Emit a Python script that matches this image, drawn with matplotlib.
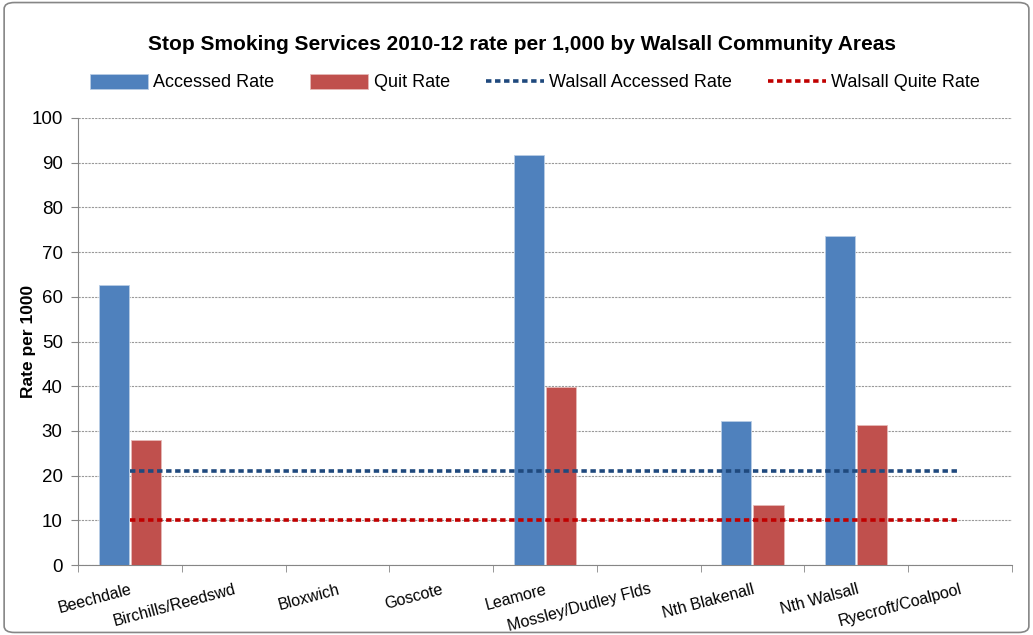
import matplotlib.pyplot as plt
from matplotlib.patches import FancyBboxPatch
import numpy as np

plt.rcParams['font.family'] = ['Liberation Sans', 'DejaVu Sans']

areas = ['Beechdale', 'Birchills/Reedswd', 'Bloxwich', 'Goscote', 'Leamore',
         'Mossley/Dudley Flds', 'Nth Blakenall', 'Nth Walsall', 'Ryecroft/Coalpool']
accessed = [62.6, 0, 0, 0, 91.7, 0, 32.2, 73.6, 0]
quit_rate = [28.0, 0, 0, 0, 39.8, 0, 13.4, 31.3, 0]
walsall_accessed = [21.0] * len(areas)
walsall_quit = [10.1] * len(areas)

fig = plt.figure(figsize=(10.33, 6.35), dpi=100)
ax = fig.add_axes([0.0755, 0.1102, 0.904, 0.704])

x = np.arange(len(areas))
w = 0.29
b1 = ax.bar(x - w / 2 - 0.01, accessed, w, color='#4f81bd', edgecolor='#b9cde5', linewidth=0.6,
            label='Accessed Rate', zorder=3)
b2 = ax.bar(x + w / 2 + 0.01, quit_rate, w, color='#c0504d', edgecolor='#e6b9b8', linewidth=0.6,
            label='Quit Rate', zorder=3)
l1, = ax.plot(x, walsall_accessed, color='#1f497d', linestyle=(0, (1.5, 1)), linewidth=2.6,
              label='Walsall Accessed Rate', zorder=4)
l2, = ax.plot(x, walsall_quit, color='#c00000', linestyle=(0, (1.5, 1)), linewidth=2.6,
              label='Walsall Quite Rate', zorder=4)

ax.set_xlim(-0.5, len(areas) - 0.5)
ax.set_ylim(0, 100)
ax.set_yticks(range(0, 101, 10))
ax.yaxis.grid(True, linestyle=(0, (2, 1)), color='#999999', linewidth=0.8, zorder=0)

ax.set_xticks(x)
ax.set_xticklabels(areas, rotation=15, ha='right', rotation_mode='anchor', fontsize=11.5)
ax.set_xticks(np.arange(-0.5, len(areas)), minor=True)
ax.tick_params(axis='x', which='major', length=0, pad=12)
ax.tick_params(axis='x', which='minor', length=5, color='#868686')
ax.tick_params(axis='y', length=5, color='#868686', labelsize=13.5, pad=6)

for s in ['top', 'right']:
    ax.spines[s].set_visible(False)
for s in ['left', 'bottom']:
    ax.spines[s].set_color('#868686')

ax.set_ylabel('Rate per 1000', fontsize=12.5, fontweight='bold')
ax.yaxis.set_label_coords(-0.045, 0.5)

fig.text(0.505, 0.93, 'Stop Smoking Services 2010-12 rate per 1,000 by Walsall Community Areas',
         ha='center', va='center', fontsize=15, fontweight='bold')
fig.legend([b1, b2, l1, l2], ['Accessed Rate', 'Quit Rate', 'Walsall Accessed Rate', 'Walsall Quite Rate'],
           loc='center', bbox_to_anchor=(0.518, 0.87), ncol=4, frameon=False, fontsize=13,
           handlelength=3.2, handleheight=0.9, columnspacing=2.0, handletextpad=0.3)

fig.patches.append(FancyBboxPatch((0.004, 0.004), 0.992, 0.992, boxstyle='round,pad=0,rounding_size=0.01',
                                  transform=fig.transFigure, fill=False, edgecolor='#868686',
                                  linewidth=1.2))

fig.savefig('out.png', dpi=100)
